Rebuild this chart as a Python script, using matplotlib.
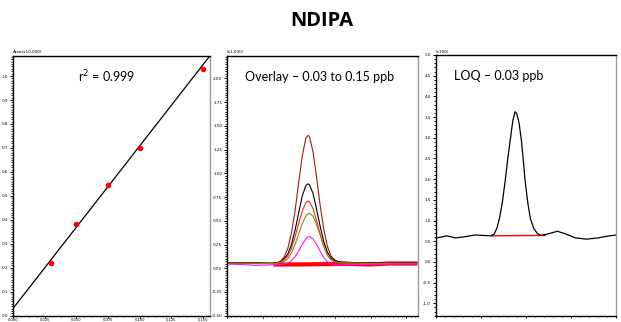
import numpy as np
import matplotlib.pyplot as plt
from matplotlib.ticker import MultipleLocator, FormatStrFormatter

# calibration curve (NDIPA)
conc = [0.03, 0.05, 0.075, 0.10, 0.15]
area = [0.221, 0.383, 0.547, 0.700, 1.029]
fit_x = [0.0, 0.1555]
fit_y = [0.030, 1.085]

# overlay chromatograms, 0.03 to 0.15 ppb
t_ov = [0.0, 0.4, 0.8, 1.2, 1.4, 1.5, 1.6, 1.7, 1.8, 1.9, 2.0, 2.1, 2.2, 2.26, 2.3,
        2.4, 2.5, 2.6, 2.7, 2.8, 2.9, 3.0, 3.1, 3.2, 3.5, 4.0, 4.5, 5.0, 5.3]
ov_015 = [0.05, 0.05, 0.05, 0.05, 0.055, 0.075, 0.12, 0.21, 0.37, 0.60, 0.90, 1.18, 1.37, 1.40, 1.39,
          1.23, 0.96, 0.66, 0.41, 0.23, 0.13, 0.09, 0.07, 0.065, 0.06, 0.055, 0.055, 0.05, 0.05]
ov_010 = [0.06, 0.06, 0.06, 0.055, 0.055, 0.07, 0.10, 0.15, 0.25, 0.40, 0.58, 0.76, 0.87, 0.89, 0.88,
          0.79, 0.62, 0.44, 0.28, 0.17, 0.11, 0.08, 0.07, 0.065, 0.06, 0.055, 0.05, 0.06, 0.06]
ov_0075 = [0.05, 0.05, 0.05, 0.05, 0.05, 0.065, 0.09, 0.13, 0.21, 0.33, 0.47, 0.60, 0.69, 0.71, 0.70,
           0.63, 0.50, 0.36, 0.23, 0.14, 0.09, 0.07, 0.06, 0.06, 0.055, 0.05, 0.05, 0.05, 0.05]
ov_005 = [0.055, 0.055, 0.055, 0.05, 0.05, 0.06, 0.075, 0.10, 0.16, 0.25, 0.36, 0.47, 0.55, 0.575, 0.58,
          0.55, 0.46, 0.35, 0.23, 0.14, 0.09, 0.07, 0.06, 0.055, 0.055, 0.05, 0.05, 0.055, 0.055]
ov_003 = [0.045, 0.04, 0.03, 0.035, 0.04, 0.04, 0.045, 0.055, 0.08, 0.12, 0.18, 0.25, 0.31, 0.33, 0.335,
          0.31, 0.25, 0.18, 0.11, 0.07, 0.045, 0.035, 0.035, 0.035, 0.04, 0.04, 0.045, 0.045, 0.045]
ov_base_t = [1.3, 2.0, 3.0, 3.5, 4.0, 4.5, 5.3]
ov_base_y = [0.04, 0.04, 0.045, 0.045, 0.04, 0.05, 0.05]

# LOQ chromatogram, 0.03 ppb
t_loq = [0.0, 0.12, 0.24, 0.33, 0.43, 0.6, 0.87, 1.05, 1.23, 1.30, 1.36, 1.42, 1.48, 1.54, 1.60,
         1.66, 1.71, 1.76, 1.80, 1.85, 1.90, 1.94, 1.98, 2.04, 2.10, 2.18, 2.26, 2.34, 2.5,
         2.7, 2.9, 3.1, 3.35, 3.6, 3.8, 4.0]
loq = [0.58, 0.60, 0.63, 0.61, 0.58, 0.60, 0.65, 0.64, 0.63, 0.68, 0.82, 1.08, 1.45, 1.95, 2.5,
       3.0, 3.4, 3.63, 3.58, 3.35, 2.95, 2.5, 2.0, 1.45, 1.05, 0.80, 0.68, 0.64, 0.68,
       0.74, 0.67, 0.58, 0.55, 0.58, 0.62, 0.65]
loq_base_t = [1.23, 2.43]
loq_base_y = [0.63, 0.64]

tick_fs = 3.0
font = ['Lato', 'DejaVu Sans']

fig = plt.figure(figsize=(6.21, 3.22), dpi=100)
W, H = 621., 322.


def box(x0, x1, y0, y1):
    return fig.add_axes([x0 / W, 1 - y1 / H, (x1 - x0) / W, (y1 - y0) / H])


def style(ax):
    for s in ['left', 'bottom', 'top']:
        ax.spines[s].set_color('black')
        ax.spines[s].set_linewidth(1.0)
    ax.spines['right'].set_color('#9a9a9a')
    ax.spines['right'].set_linewidth(1.0)
    ax.tick_params(which='major', direction='out', length=2.5, width=0.7, labelsize=tick_fs, pad=0.8)
    ax.tick_params(which='minor', direction='out', length=1.3, width=0.6)
    ax.tick_params(axis='x', which='major', length=1.6, pad=0.2)
    ax.tick_params(axis='x', which='minor', length=1.0)


ax1 = box(13, 210, 55.7, 315.7)
ax2 = box(226.7, 418, 55.7, 315.7)
ax3 = box(435.7, 616, 55, 315.7)

# panel 1 - calibration
ax1.plot(fit_x, fit_y, color='black', lw=0.9)
ax1.plot(conc, area, 'o', color='red', ms=3.0, mec='red')
ax1.set_xlim(0, 0.1555)
ax1.set_ylim(0, 1.085)
ax1.xaxis.set_major_locator(MultipleLocator(0.025))
ax1.xaxis.set_minor_locator(MultipleLocator(0.00625))
ax1.yaxis.set_major_locator(MultipleLocator(0.1))
ax1.yaxis.set_minor_locator(MultipleLocator(0.01))
ax1.xaxis.set_major_formatter(FormatStrFormatter('%.3f'))
ax1.yaxis.set_major_formatter(FormatStrFormatter('%.1f'))
style(ax1)
ax1.tick_params(axis='x', labelsize=2.6)
ax1.text(0.477, 0.918, 'r$^{2}$ = 0.999', transform=ax1.transAxes, ha='center', va='center',
         fontsize=9, family=font)
ax1.text(0.0, 1.005, 'Area(x10,000)', transform=ax1.transAxes, ha='left', va='bottom',
         fontsize=tick_fs)

# panel 2 - overlay
ax2.plot(ov_base_t, ov_base_y, color='red', lw=3.0, solid_capstyle='butt')
ax2.plot(t_ov, ov_015, color='#a01818', lw=0.8)
ax2.plot(t_ov, ov_010, color='black', lw=0.8)
ax2.plot(t_ov, ov_0075, color='#ff2020', lw=0.8)
ax2.plot(t_ov, ov_005, color='#8a8a00', lw=0.8)
ax2.plot(t_ov, ov_003, color='#ff10ff', lw=0.8)
ax2.set_xlim(0, 5.32)
ax2.set_ylim(-0.5, 2.24)
ax2.xaxis.set_major_locator(MultipleLocator(1))
ax2.xaxis.set_minor_locator(MultipleLocator(0.125))
ax2.yaxis.set_major_locator(MultipleLocator(0.25))
ax2.yaxis.set_minor_locator(MultipleLocator(0.025))
ax2.yaxis.set_major_formatter(FormatStrFormatter('%.2f'))
ax2.set_xticklabels([])
style(ax2)
ax2.text(0.486, 0.918, 'Overlay \u2013 0.03 to 0.15 ppb', transform=ax2.transAxes, ha='center',
         va='center', fontsize=9, family=font)
ax2.text(0.0, 1.005, '(x1,000)', transform=ax2.transAxes, ha='left', va='bottom', fontsize=tick_fs)

# panel 3 - LOQ
ax3.plot(loq_base_t, loq_base_y, color='red', lw=1.0)
ax3.plot(t_loq, loq, color='black', lw=0.9)
ax3.set_xlim(0, 4.0)
ax3.set_ylim(-1.3, 5.0)
ax3.xaxis.set_major_locator(MultipleLocator(1))
ax3.xaxis.set_minor_locator(MultipleLocator(0.2))
ax3.yaxis.set_major_locator(MultipleLocator(0.5))
ax3.yaxis.set_minor_locator(MultipleLocator(0.1))
ax3.yaxis.set_major_formatter(FormatStrFormatter('%.1f'))
ax3.set_xticklabels([])
style(ax3)
ax3.text(0.351, 0.918, 'LOQ \u2013 0.03 ppb', transform=ax3.transAxes, ha='center', va='center',
         fontsize=9, family=font)
ax3.text(0.0, 1.005, '(x100)', transform=ax3.transAxes, ha='left', va='bottom', fontsize=tick_fs)

fig.text(322 / W, 1 - 20.5 / H, 'NDIPA', ha='center', va='center', fontsize=14.5,
         fontweight='bold', family=['Open Sans', 'DejaVu Sans'])

fig.savefig('out.png', dpi=100)
